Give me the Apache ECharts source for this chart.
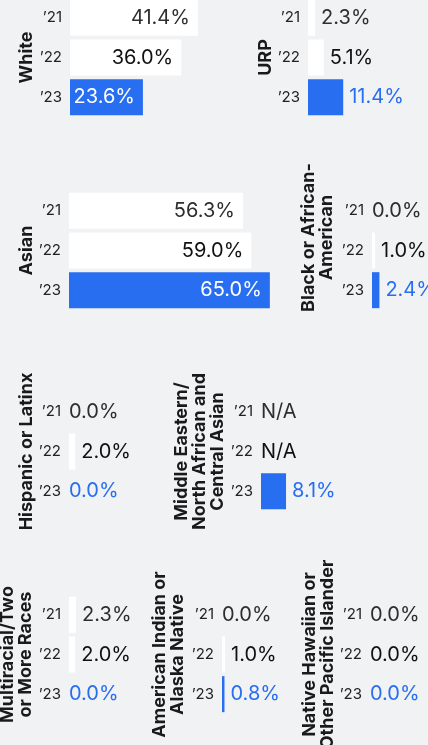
<!DOCTYPE html>
<html>
<head>
<meta charset="utf-8">
<title>Representation by race / ethnicity</title>
<script src="https://cdn.jsdelivr.net/npm/echarts@6/dist/echarts.min.js"></script>
<style>
  html, body { margin: 0; padding: 0; background: #f1f2f4; }
  #chart { width: 428px; height: 745px; }
</style>
</head>
<body>
<div id="chart"></div>
<script>
// Year categories shown on every small panel
const years = ['\u201921', '\u201922', '\u201923'];

// Panel titles (line breaks as displayed)
const groups = [
  'White',
  'URP',
  'Asian',
  'Black or African-\nAmerican',
  'Hispanic or Latinx',
  'Middle Eastern/\nNorth African and\nCentral Asian',
  'Multiracial/Two\nor More Races',
  'American Indian or\nAlaska Native',
  'Native Hawaiian or\nOther Pacific Islander'
];

// Share (%) per year, '21 / '22 / '23; null = not reported
const white       = [41.4, 36.0, 23.6];
const urp         = [2.3, 5.1, 11.4];
const asian       = [56.3, 59.0, 65.0];
const black       = [0.0, 1.0, 2.4];
const hispanic    = [0.0, 2.0, 0.0];
const mena        = [null, null, 8.1];
const multiracial = [2.3, 2.0, 0.0];
const amIndian    = [0.0, 1.0, 0.8];
const nhpi        = [0.0, 0.0, 0.0];

const seriesValues = [white, urp, asian, black, hispanic, mena, multiracial, amIndian, nhpi];

// Panel placement: [left, top] of each plotting area (px)
const panelPos = [
  [70, -2], [308, -2],
  [69, 191], [372, 191],
  [69, 392], [261, 392],
  [69, 595], [222, 595], [370, 595]
];
// Small vertical nudges for titles (px, positive = up)
const titleShift = [0, 0, 0, 13, 0, 0, 0, 0, 0];
// Gap between title and axis (px)
const titleGap = [34, 33, 33, 36, 33, 34, 34, 35, 33];

const PX_PER_PCT = 3.09;
const X_MAX = 70;
const BLUE = '#276ef1';
const FONT = 'Inter, "Noto Sans", sans-serif';
const yearTextColors = ['#2e2e2e', '#111111', BLUE];

const grids = [], xAxes = [], yAxes = [], series = [];

groups.forEach((name, i) => {
  const [left, top] = panelPos[i];
  grids.push({
    left: left, top: top, width: X_MAX * PX_PER_PCT, height: 119,
    containLabel: false, outerBoundsMode: 'none'
  });
  xAxes.push({ gridIndex: i, type: 'value', min: 0, max: X_MAX, show: false });
  yAxes.push({
    gridIndex: i,
    type: 'category',
    inverse: true,
    data: years,
    axisLine: { show: false },
    axisTick: { show: false },
    splitLine: { show: false },
    axisLabel: { margin: 8, color: '#222', fontSize: 15, fontFamily: FONT },
    name: name,
    nameLocation: 'middle',
    nameRotate: 90,
    nameGap: titleGap[i],
    nameMoveOverlap: false,
    nameTextStyle: {
      color: '#1a1a1a', fontSize: 18, fontWeight: 'bold', fontFamily: FONT,
      lineHeight: 18, align: 'center',
      padding: [0, 0, 0, titleShift[i] * 2]
    }
  });

  const data = seriesValues[i].map((v, k) => {
    const isLatest = k === 2;
    if (v === null) {
      return {
        value: 0,
        itemStyle: { color: 'rgba(0,0,0,0)' },
        label: { show: true, position: 'right', distance: 0, formatter: 'N/A', color: yearTextColors[k] }
      };
    }
    const inside = v >= 20;
    return {
      value: v,
      itemStyle: { color: isLatest ? BLUE : '#ffffff' },
      label: {
        show: true,
        position: inside ? 'insideRight' : 'right',
        distance: inside ? 8 : (v > 0 ? 6 : 0),
        color: inside && isLatest ? '#ffffff' : yearTextColors[k]
      }
    };
  });

  series.push({
    type: 'bar',
    xAxisIndex: i,
    yAxisIndex: i,
    barWidth: 36,
    data: data,
    silent: true,
    label: {
      fontSize: 20,
      fontFamily: FONT,
      formatter: p => p.value.toFixed(1) + '%'
    }
  });
});

const chart = echarts.init(document.getElementById('chart'), null, { renderer: 'canvas' });
chart.setOption({
  backgroundColor: '#f1f2f4',
  animation: false,
  grid: grids,
  xAxis: xAxes,
  yAxis: yAxes,
  series: series
});
</script>
</body>
</html>
